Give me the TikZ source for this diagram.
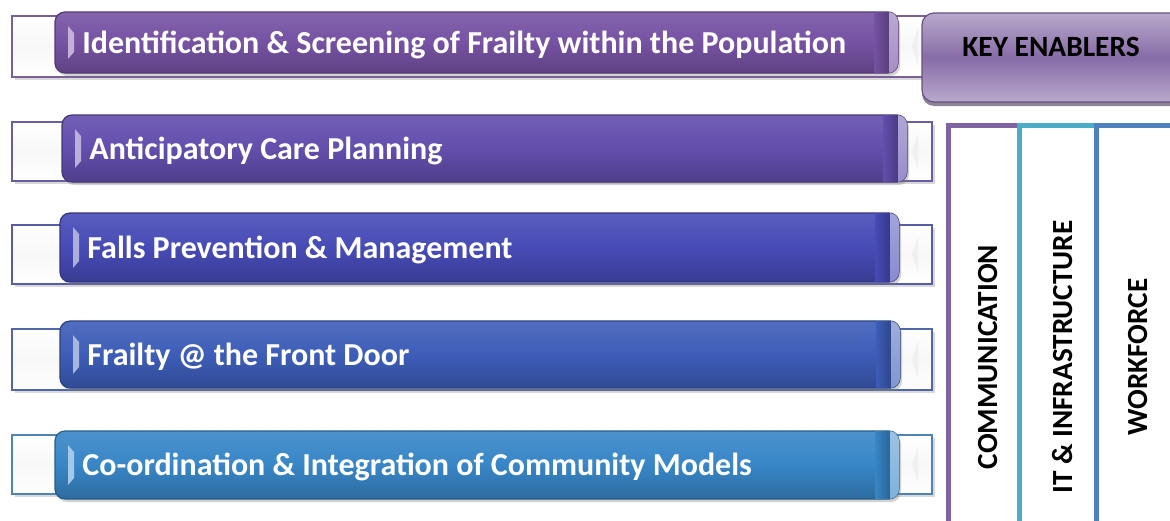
\documentclass[tikz,border=0pt]{standalone}
\usepackage{fontspec}
\setmainfont{Carlito}
\usetikzlibrary{shadows}
\definecolor{cA}{HTML}{7652A3}
\definecolor{cB}{HTML}{634EAD}
\definecolor{cC}{HTML}{474BB6}
\definecolor{cD}{HTML}{3D5DB8}
\definecolor{cE}{HTML}{3886C7}
\definecolor{kePurple}{HTML}{8064A2}
\definecolor{keCyan}{HTML}{4BACC6}
\definecolor{keBlue}{HTML}{4F81BD}
\tikzset{
  backbox/.style={draw=#1!70!gray, line width=0.8pt, top color=white, bottom color=white, middle color=gray!6,
    drop shadow={shadow xshift=1.5pt, shadow yshift=-1.5pt, opacity=0.3}},
  barbox/.style={draw=#1!70!black, line width=0.6pt, rounded corners=5pt,
    top color=#1!90!white, bottom color=#1!80!black, middle color=#1,
    drop shadow={shadow xshift=1pt, shadow yshift=-1.5pt, opacity=0.35}},
  bartext/.style={text=white, font=\bfseries\fontsize{16}{19}\selectfont, anchor=base west, inner sep=0pt},
  coltext/.style={text=black, font=\bfseries\fontsize{14.6}{17}\selectfont, rotate=90, inner sep=0pt},
  colline/.style={draw=#1, line width=2.5pt},
}
% #1 name, #2 bar left, #3 bar right, #4 bar top, #5 bar bottom, #6 back top, #7 back bottom, #8 colour, #9 text
\newcommand\fbar[9]{%
  \path[backbox=#8] (12,#6) rectangle (932,#7);
  \fill[gray!12] (918,{#6+12}) -- (912,{(#6+#7)/2}) -- (918,{#7-12}) -- cycle;
  \path[barbox=#8] (#2,#4) rectangle (#3,#5);
  \begin{scope}
    \clip[rounded corners=5pt] (#2,#4) rectangle (#3,#5);
    \shade[left color=#8, right color=#8!75!black] ({#3-24},#4) rectangle ({#3-9},#5);
    \shade[top color=#8!50!white, bottom color=#8!65!white] ({#3-9},#4) rectangle (#3,#5);
  \end{scope}
  \fill[#8!45!white] ({#2+13},{#4+14}) -- ({#2+19},{#4+21}) -- ({#2+19},{#5-21}) -- ({#2+13},{#5-14}) -- cycle;
  \node[bartext] (#1) at ({#2+27},{(#4+#5)/2+10.5}) {#9};
}
\begin{document}
\begin{tikzpicture}[x=0.5pt,y=-0.5pt]
\useasboundingbox[fill=white] (0,0) rectangle (1170,520);
\fbar{t1}{55}{898}{12}{73}{16}{77}{cA}{Identification \& Screening of Frailty within the Population}
\fbar{t2}{62}{907}{115}{182}{122}{181}{cB}{Anticipatory Care Planning}
\fbar{t3}{60}{899}{213}{282}{225}{284}{cC}{Falls Prevention \& Management}
\fbar{t4}{60}{900}{321}{388}{329}{390}{cD}{Frailty @ the Front Door}
\fbar{t5}{55}{899}{431}{499}{435}{494}{cE}{Co-ordination \& Integration of Community Models}
% key enablers
\path[draw=kePurple!80!black, line width=0.6pt, rounded corners=6pt,
  top color=kePurple!55!white, bottom color=kePurple!55!white, middle color=kePurple!95!white,
  drop shadow={shadow xshift=0pt, shadow yshift=-2pt, opacity=0.6, fill=kePurple!50!black}]
  (922,13) rectangle (1185,102);
\node[text=black, font=\bfseries\fontsize{14.7}{17}\selectfont, inner sep=0pt] (ke) at (1051,47) {KEY ENABLERS};
% columns
\draw[colline=kePurple] (948,522) -- (948,125) -- (1019,125);
\draw[colline=keCyan] (1019,522) -- (1019,125) -- (1096,125);
\draw[colline=keBlue] (1096,522) -- (1096,125) -- (1172,125);
\node[coltext] (c1) at (988,357) {COMMUNICATION};
\node[coltext] (c2) at (1063,357) {IT \& INFRASTRUCTURE};
\node[coltext] (c3) at (1138,357) {WORKFORCE};
\end{tikzpicture}
\end{document}
